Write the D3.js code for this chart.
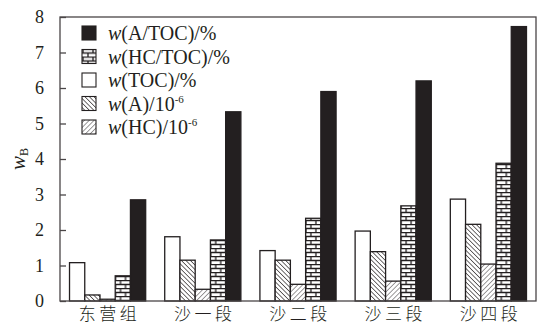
<!DOCTYPE html>
<html>
<head>
<meta charset="utf-8">
<script src="https://cdn.jsdelivr.net/npm/d3@7"></script>
<style>
  html, body { margin: 0; padding: 0; background: #fff; }
  svg { display: block; }
</style>
</head>
<body>
<svg id="chart" width="543" height="324"></svg>
<script>
// Formation members (x categories)
const categories = ["东营组", "沙一段", "沙二段", "沙三段", "沙四段"];

// Series values per member
const tocValues   = [1.08, 1.81, 1.42, 1.97, 2.87];  // w(TOC)/%
const aValues     = [0.17, 1.15, 1.15, 1.39, 2.16];  // w(A)/10^-6
const hcValues    = [0.05, 0.33, 0.47, 0.56, 1.04];  // w(HC)/10^-6
const hcTocValues = [0.71, 1.72, 2.33, 2.68, 3.88];  // w(HC/TOC)/%
const aTocValues  = [2.85, 5.33, 5.90, 6.20, 7.73];  // w(A/TOC)/%

const yTicks = [0, 1, 2, 3, 4, 5, 6, 7, 8];

// Series in bar order (left to right within a group)
const series = [
  { key: "toc",   values: tocValues,   fill: "#fff" },
  { key: "a",     values: aValues,     fill: "url(#hatchBack)" },
  { key: "hc",    values: hcValues,    fill: "url(#hatchFwd)" },
  { key: "hctoc", values: hcTocValues, fill: "url(#brick)" },
  { key: "atoc",  values: aTocValues,  fill: "#231f20" }
];

// Legend order, with label parts: italic w, upright body, superscript
const legendItems = [
  { key: "atoc",  main: "(A/TOC)/%",  sup: "" },
  { key: "hctoc", main: "(HC/TOC)/%", sup: "" },
  { key: "toc",   main: "(TOC)/%",    sup: "" },
  { key: "a",     main: "(A)/10",     sup: "-6" },
  { key: "hc",    main: "(HC)/10",    sup: "-6" }
];

const ink = "#231f20";
const svg = d3.select("#chart");
const margin = { left: 60, right: 7, top: 17, bottom: 23 };
const W = 543, H = 324;
const plotL = margin.left, plotR = W - margin.right;
const plotT = margin.top, plotB = H - margin.bottom;

// Fill patterns
const defs = svg.append("defs");
// "\\\" hatching
const back = defs.append("pattern").attr("id", "hatchBack")
  .attr("patternUnits", "userSpaceOnUse").attr("width", 3.2).attr("height", 3.2)
  .attr("patternTransform", "rotate(-45)");
back.append("rect").attr("width", 3.2).attr("height", 3.2).attr("fill", "#fff");
back.append("line").attr("x1", 0).attr("y1", 0).attr("x2", 0).attr("y2", 3.2)
  .attr("stroke", ink).attr("stroke-width", 1.3);

// "///" hatching
const fwd = defs.append("pattern").attr("id", "hatchFwd")
  .attr("patternUnits", "userSpaceOnUse").attr("width", 3.4).attr("height", 3.4)
  .attr("patternTransform", "rotate(45)");
fwd.append("rect").attr("width", 3.4).attr("height", 3.4).attr("fill", "#fff");
fwd.append("line").attr("x1", 0).attr("y1", 0).attr("x2", 0).attr("y2", 3.4)
  .attr("stroke", ink).attr("stroke-width", 0.9);

// brick
const brick = defs.append("pattern").attr("id", "brick")
  .attr("patternUnits", "userSpaceOnUse").attr("width", 10).attr("height", 8);
brick.append("rect").attr("width", 10).attr("height", 8).attr("fill", "#fff");
brick.append("path")
  .attr("d", "M0,0.5H10M0,4.5H10M1,0.5V4.5M6,4.5V8.5")
  .attr("stroke", ink).attr("stroke-width", 1.3).attr("fill", "none");

// Scales
const x0 = d3.scaleBand().domain(categories).range([plotL, plotR])
  .paddingInner(0.2).paddingOuter(0.1);
const x1 = d3.scaleBand().domain(series.map(s => s.key)).range([0, x0.bandwidth()]);
const y = d3.scaleLinear().domain([0, 8]).range([plotB, plotT]);

// Bars
const groups = svg.append("g").selectAll("g").data(categories).join("g")
  .attr("transform", d => `translate(${x0(d)},0)`);
groups.each(function (cat, i) {
  d3.select(this).selectAll("rect").data(series).join("rect")
    .attr("x", s => x1(s.key))
    .attr("y", s => y(s.values[i]))
    .attr("width", x1.bandwidth())
    .attr("height", s => y(0) - y(s.values[i]))
    .attr("fill", s => s.fill)
    .attr("stroke", ink)
    .attr("stroke-width", 1.3);
});

// Frame
svg.append("rect")
  .attr("x", plotL).attr("y", plotT)
  .attr("width", plotR - plotL).attr("height", plotB - plotT)
  .attr("fill", "none").attr("stroke", "#4a4647").attr("stroke-width", 1.3);

// Y axis with inward ticks
const yAxis = svg.append("g").attr("transform", `translate(${plotL},0)`)
  .call(d3.axisLeft(y).tickValues(yTicks).tickSizeInner(-6).tickSizeOuter(0).tickPadding(16));
yAxis.select(".domain").remove();
yAxis.selectAll("line").attr("stroke", "#4a4647").attr("stroke-width", 1.3);
yAxis.selectAll("text")
  .attr("font-family", "'Liberation Serif', 'Times New Roman', serif")
  .attr("font-size", 18).attr("fill", ink);

// X category labels
svg.append("g").selectAll("text").data(categories).join("text")
  .attr("x", d => x0(d) + x0.bandwidth() / 2 + 2)
  .attr("y", plotB + 19)
  .attr("text-anchor", "middle")
  .attr("font-family", "'Noto Sans CJK SC', sans-serif")
  .attr("font-size", 17)
  .attr("font-weight", 300)
  .attr("letter-spacing", 3.5)
  .attr("fill", ink)
  .text(d => d);

// Y axis title: w_B
const yTitle = svg.append("text")
  .attr("transform", `translate(25,${(plotT + plotB) / 2}) rotate(-90)`)
  .attr("text-anchor", "middle")
  .attr("font-family", "'Liberation Serif', 'Times New Roman', serif")
  .attr("fill", ink);
yTitle.append("tspan").attr("font-style", "italic").attr("font-size", 21).text("w");
yTitle.append("tspan").attr("font-size", 12).attr("dy", 3).text("B");

// Legend
const fillOf = Object.fromEntries(series.map(s => [s.key, s.fill]));
const legend = svg.append("g").selectAll("g").data(legendItems).join("g")
  .attr("transform", (d, i) => `translate(82,${33 + i * 23.5})`);
legend.append("rect")
  .attr("x", 0).attr("y", -7).attr("width", 14).attr("height", 14)
  .attr("fill", d => fillOf[d.key]).attr("stroke", ink).attr("stroke-width", 1.1);
const lt = legend.append("text")
  .attr("x", 26).attr("y", 7)
  .attr("font-family", "'Liberation Serif', 'Times New Roman', serif")
  .attr("font-size", 20).attr("fill", ink);
lt.append("tspan").attr("font-style", "italic").text("w");
lt.append("tspan").text(d => d.main);
lt.filter(d => d.sup).append("tspan").attr("font-size", 11).attr("dy", -8).text(d => d.sup);
</script>
</body>
</html>
